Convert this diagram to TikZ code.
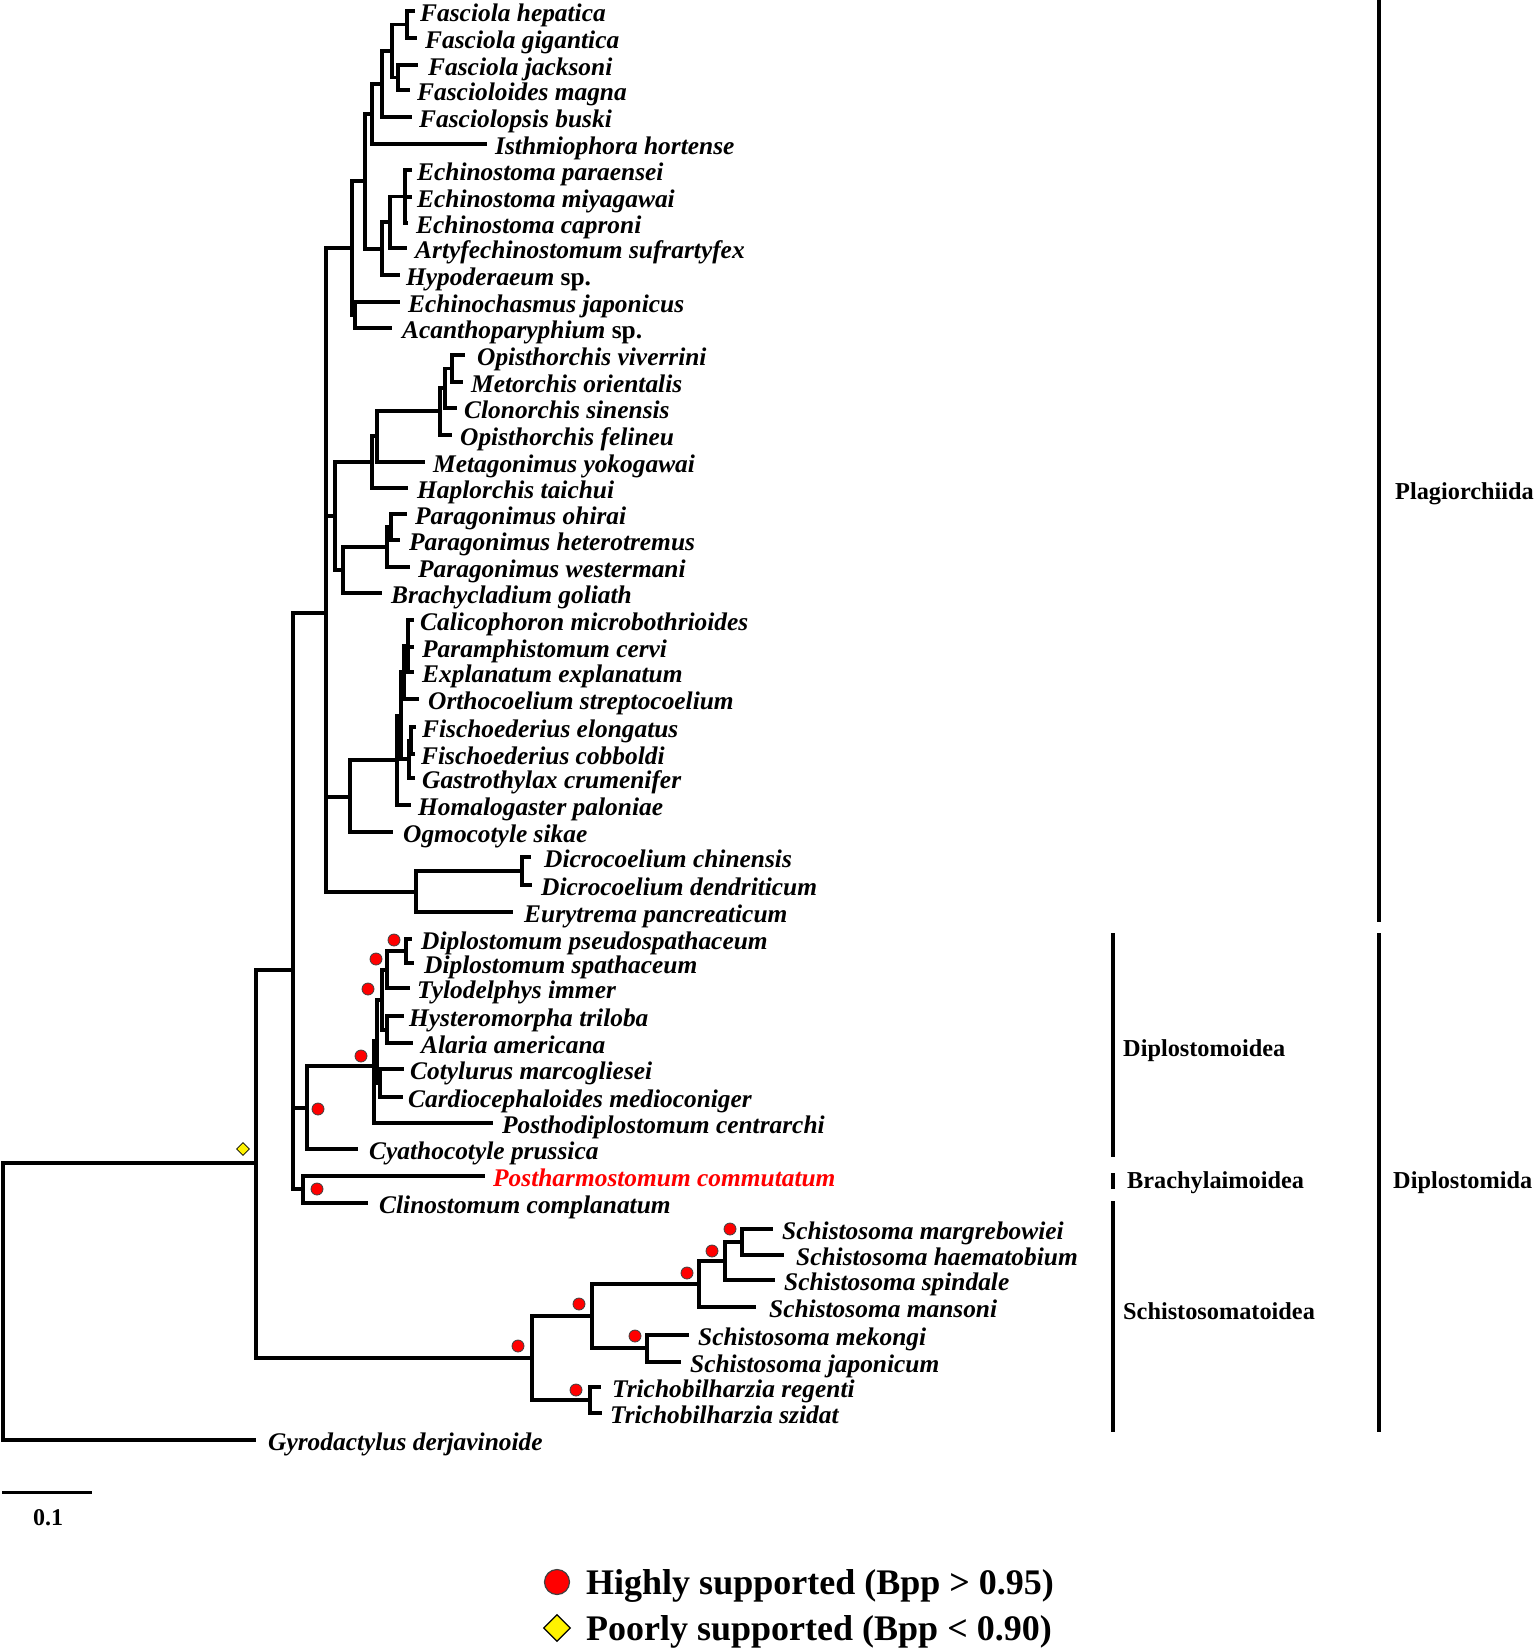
\documentclass[tikz,border=0pt]{standalone}
\usepackage{fontspec}
\setmainfont{Liberation Serif}
\usetikzlibrary{shapes.geometric}
\newcommand\leaf[5]{\coordinate (#1) at (#2,#4); \node[lab] (t#1) at (#3,{#4+10}) {#5};}
\begin{document}
\begin{tikzpicture}[x=1pt,y=-1pt,
  br/.style={line width=3.1pt, line join=miter},
  bar/.style={line width=3.4pt},
  lab/.style={anchor=base west, inner sep=0pt, font=\fontsize{25.4}{27}\selectfont\bfseries\itshape},
  clade/.style={anchor=base west, inner sep=0pt, font=\fontsize{24.3}{27}\selectfont\bfseries},
  legtext/.style={anchor=base west, inner sep=0pt, font=\fontsize{36}{40}\selectfont\bfseries},
  hs/.style={circle, fill=red, draw=black!75, line width=0.8pt, minimum size=12pt, inner sep=0pt},
  ps/.style={diamond, fill=yellow, draw=black, line width=0.8pt, minimum size=13pt, inner sep=0pt}]
\useasboundingbox (0,0) rectangle (1535,1649);
% ---------- leaves ----------
\leaf{hep}{415}{420}{11}{Fasciola hepatica}
\leaf{gig}{417}{425}{38}{Fasciola gigantica}
\leaf{jac}{418}{428}{65}{Fasciola jacksoni}
\leaf{mag}{410}{417}{90}{Fascioloides magna}
\leaf{bus}{412}{419}{117}{Fasciolopsis buski}
\leaf{ist}{487}{495}{144}{Isthmiophora hortense}
\leaf{epa}{412}{417}{170}{Echinostoma paraensei}
\leaf{emi}{412}{417}{197}{Echinostoma miyagawai}
\leaf{eca}{408}{416}{223}{Echinostoma caproni}
\leaf{art}{407}{415}{248}{Artyfechinostomum sufrartyfex}
\leaf{hyp}{400}{406}{275}{Hypoderaeum \textup{sp.}}
\leaf{ecj}{400}{408}{302}{Echinochasmus japonicus}
\leaf{aca}{392}{402}{328}{Acanthoparyphium \textup{sp.}}
\leaf{ovi}{465}{477}{355}{Opisthorchis viverrini}
\leaf{mor}{463}{471}{382}{Metorchis orientalis}
\leaf{csi}{457}{464}{408}{Clonorchis sinensis}
\leaf{ofe}{452}{460}{435}{Opisthorchis felineu}
\leaf{myo}{425}{433}{462}{Metagonimus yokogawai}
\leaf{hta}{408}{417}{488}{Haplorchis taichui}
\leaf{poh}{407}{415}{514}{Paragonimus ohirai}
\leaf{phe}{400}{409}{540}{Paragonimus heterotremus}
\leaf{pwe}{410}{418}{567}{Paragonimus westermani}
\leaf{bgo}{382}{391}{593}{Brachycladium goliath}
\leaf{cmi}{414}{420}{620}{Calicophoron microbothrioides}
\leaf{pce}{414}{422}{647}{Paramphistomum cervi}
\leaf{eex}{414}{422}{672}{Explanatum explanatum}
\leaf{ost}{419}{428}{699}{Orthocoelium streptocoelium}
\leaf{fel}{416}{422}{727}{Fischoederius elongatus}
\leaf{fco}{415}{421}{754}{Fischoederius cobboldi}
\leaf{gcr}{415}{422}{778}{Gastrothylax crumenifer}
\leaf{hpa}{411}{418}{805}{Homalogaster paloniae}
\leaf{osi}{393}{403}{832}{Ogmocotyle sikae}
\leaf{dch}{531}{544}{857}{Dicrocoelium chinensis}
\leaf{dde}{532}{541}{885}{Dicrocoelium dendriticum}
\leaf{eur}{513}{524}{912}{Eurytrema pancreaticum}
\leaf{dps}{412}{421}{939}{Diplostomum pseudospathaceum}
\leaf{dsp}{414}{424}{963}{Diplostomum spathaceum}
\leaf{tim}{410}{417}{988}{Tylodelphys immer}
\leaf{htr}{404}{409}{1016}{Hysteromorpha triloba}
\leaf{aam}{413}{421}{1043}{Alaria americana}
\leaf{cma}{404}{410}{1069}{Cotylurus marcogliesei}
\leaf{cme}{403}{408}{1097}{Cardiocephaloides medioconiger}
\leaf{pdc}{493}{502}{1123}{Posthodiplostomum centrarchi}
\leaf{cpr}{358}{369}{1149}{Cyathocotyle prussica}
\leaf{pco}{485}{493}{1176}{\color{red}Postharmostomum commutatum}
\leaf{ccp}{368}{379}{1203}{Clinostomum complanatum}
\leaf{sma}{773}{782}{1229}{Schistosoma margrebowiei}
\leaf{sha}{784}{796}{1255}{Schistosoma haematobium}
\leaf{ssp}{775}{784}{1280}{Schistosoma spindale}
\leaf{smn}{756}{769}{1307}{Schistosoma mansoni}
\leaf{smk}{689}{698}{1335}{Schistosoma mekongi}
\leaf{sja}{681}{690}{1362}{Schistosoma japonicum}
\leaf{tre}{601}{612}{1387}{Trichobilharzia regenti}
\leaf{tsz}{602}{610}{1413}{Trichobilharzia szidat}
\leaf{gde}{256}{268}{1440}{Gyrodactylus derjavinoide}
% ---------- internal nodes ----------
\coordinate (nhg) at (407,24.5);
\coordinate (njm) at (398,77.5);
\coordinate (nfas) at (392,51);
\coordinate (nbus) at (382,84);
\coordinate (nist) at (372,114);
\coordinate (ne1) at (405,196.5);
\coordinate (nart) at (390,222);
\coordinate (nhyp) at (382,249);
\coordinate (nfe) at (365,181);
\coordinate (nea) at (355,315);
\coordinate (nfea) at (352,248);
\coordinate (nom) at (452,368.5);
\coordinate (nomc) at (445,388);
\coordinate (nomcf) at (440,411);
\coordinate (nmety) at (377,436);
\coordinate (nhap) at (372,462);
\coordinate (noh) at (391,527);
\coordinate (npw) at (387,547);
\coordinate (nbr) at (343,570);
\coordinate (nop) at (335,516);
\coordinate (nA1) at (326,382);
\coordinate (np1) at (408,646);
\coordinate (np2) at (404,672);
\coordinate (nf1) at (411,740.5);
\coordinate (nf2) at (409,759);
\coordinate (np3) at (401,716);
\coordinate (nhom) at (397,760);
\coordinate (nogm) at (350,797);
\coordinate (ndd) at (522,871);
\coordinate (neu) at (416,892);
\coordinate (nA2) at (326,845);
\coordinate (nA3) at (326,613);
\coordinate (nd1) at (406,951);
\coordinate (nd2) at (387,970);
\coordinate (nd3) at (387,1030);
\coordinate (nd4) at (382,1000);
\coordinate (nd5) at (380,1083);
\coordinate (nd6) at (377,1041);
\coordinate (nd7) at (374,1066);
\coordinate (nd8) at (307,1108);
\coordinate (nb) at (303,1189);
\coordinate (nC) at (293,970);
\coordinate (ns1) at (742,1242);
\coordinate (ns2) at (725,1261);
\coordinate (ns3) at (699,1284);
\coordinate (ns5) at (647,1348);
\coordinate (ns4) at (592,1316);
\coordinate (nt) at (590,1400);
\coordinate (ns6) at (532,1358);
\coordinate (nin) at (256,1163);
\coordinate (nroot) at (3,1302);
% ---------- branches ----------
\foreach \p/\c in {nhg/hep,nhg/gig,njm/jac,njm/mag,nfas/nhg,nfas/njm,nbus/nfas,nbus/bus,
  nist/nbus,nist/ist,ne1/epa,ne1/emi,ne1/eca,nart/ne1,nart/art,nhyp/nart,nhyp/hyp,
  nfe/nist,nfe/nhyp,nea/ecj,nea/aca,nfea/nfe,nfea/nea,
  nom/ovi,nom/mor,nomc/nom,nomc/csi,nomcf/nomc,nomcf/ofe,nmety/nomcf,nmety/myo,
  nhap/nmety,nhap/hta,noh/poh,noh/phe,npw/noh,npw/pwe,nbr/npw,nbr/bgo,nop/nhap,nop/nbr,
  nA1/nfea,nA1/nop,
  np1/cmi,np1/pce,np1/eex,np2/np1,np2/ost,nf1/fel,nf1/fco,nf2/nf1,nf2/gcr,np3/np2,np3/nf2,
  nhom/np3,nhom/hpa,nogm/nhom,nogm/osi,ndd/dch,ndd/dde,neu/ndd,neu/eur,nA2/nogm,nA2/neu,
  nA3/nA1,nA3/nA2,
  nd1/dps,nd1/dsp,nd2/nd1,nd2/tim,nd3/htr,nd3/aam,nd4/nd2,nd4/nd3,nd5/cma,nd5/cme,
  nd6/nd4,nd6/nd5,nd7/nd6,nd7/pdc,nd8/nd7,nd8/cpr,nb/pco,nb/ccp,nC/nA3,nC/nd8,nC/nb,
  ns1/sma,ns1/sha,ns2/ns1,ns2/ssp,ns3/ns2,ns3/smn,ns5/smk,ns5/sja,ns4/ns3,ns4/ns5,
  nt/tre,nt/tsz,ns6/ns4,ns6/nt,nin/nC,nin/ns6,nroot/nin,nroot/gde}
  \draw[br] (\p) |- (\c);
% ---------- support markers ----------
\node[hs] (s1) at (394,940) {};
\node[hs] (s2) at (376,959) {};
\node[hs] (s3) at (368,989) {};
\node[hs] (s4) at (361,1056) {};
\node[hs] (s5) at (318,1109) {};
\node[hs] (s6) at (317,1189) {};
\node[hs] (s7) at (730,1229) {};
\node[hs] (s8) at (712,1251) {};
\node[hs] (s9) at (687,1273) {};
\node[hs] (s10) at (579,1304) {};
\node[hs] (s11) at (635,1336) {};
\node[hs] (s12) at (518,1346) {};
\node[hs] (s13) at (576,1390) {};
\node[ps] (p1) at (243,1149) {};
% ---------- clade bars ----------
\coordinate (bPa) at (1379,0); \coordinate (bPb) at (1379,922);
\coordinate (bDa) at (1379,933); \coordinate (bDb) at (1379,1432);
\coordinate (bSa) at (1113,933); \coordinate (bSb) at (1113,1157);
\coordinate (bBa) at (1113,1173); \coordinate (bBb) at (1113,1189);
\coordinate (bCa) at (1113,1201); \coordinate (bCb) at (1113,1432);
\draw[bar] (bPa) -- (bPb);
\draw[bar] (bDa) -- (bDb);
\draw[bar] (bSa) -- (bSb);
\draw[bar] (bBa) -- (bBb);
\draw[bar] (bCa) -- (bCb);
\node[clade] (cPl) at (1395,499) {Plagiorchiida};
\node[clade] (cDi) at (1393,1188) {Diplostomida};
\node[clade] (cDo) at (1123,1056) {Diplostomoidea};
\node[clade] (cBr) at (1127,1188) {Brachylaimoidea};
\node[clade] (cSc) at (1123,1319) {Schistosomatoidea};
% ---------- scale bar ----------
\coordinate (sba) at (2,1492); \coordinate (sbb) at (92,1492);
\draw[line width=3pt] (sba) -- (sbb);
\node[font=\fontsize{24}{27}\selectfont\bfseries, inner sep=0pt] (sbl) at (48,1518) {0.1};
% ---------- legend ----------
\node[hs, minimum size=25pt, line width=1.2pt] (lg1) at (557,1582) {};
\node[ps, minimum size=27pt, line width=1.2pt] (lg2) at (557,1628) {};
\node[legtext] (lt1) at (586,1594) {Highly supported (Bpp > 0.95)};
\node[legtext] (lt2) at (586,1640) {Poorly supported (Bpp < 0.90)};
\end{tikzpicture}
\end{document}
